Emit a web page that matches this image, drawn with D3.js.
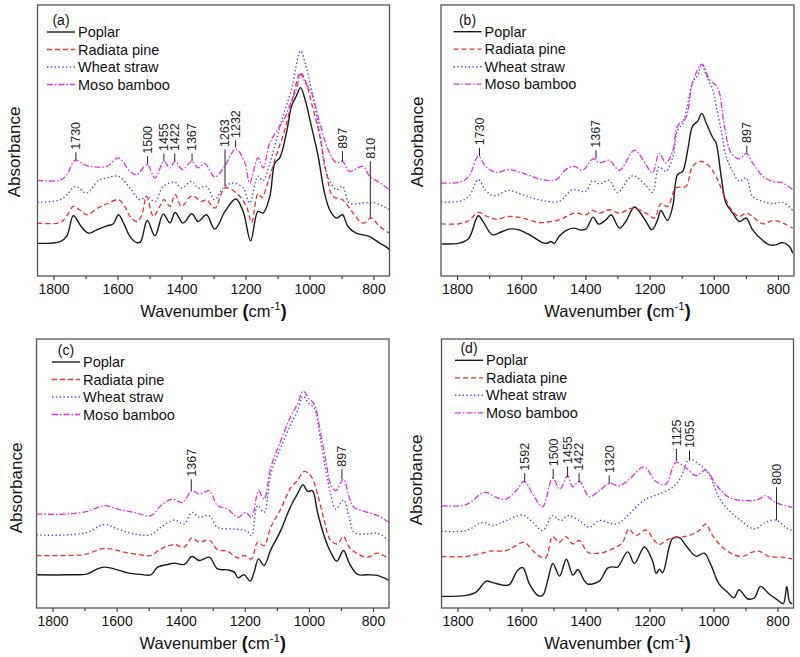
<!DOCTYPE html>
<html><head><meta charset="utf-8">
<script src="https://cdn.jsdelivr.net/npm/d3@7"></script>
<style>
body{margin:0;background:#fff}
svg{display:block}
text{font-family:"Liberation Sans",Arial,sans-serif;fill:#111}
</style>
</head><body>
<svg id="c" width="800" height="657"></svg>
<script>
// ---------- data ----------
const seriesNames = ["Poplar","Radiata pine","Wheat straw","Moso bamboo"];
const panelLabels = ["(a)","(b)","(c)","(d)"];
const xTicks = [1800,1600,1400,1200,1000,800];
const xMinorTicks = [1700,1500,1300,1100,900];
const xDomain = [1850,750];
const yDomain = [0,270];

// panel (a)  [wavenumber, absorbance (a.u.)]
const popA = [[1850,32.5],[1779,34.3],[1758,40],[1738,60],[1715,50],[1696,43.5],[1686,42.7],[1665,46],[1633,50],[1613,52],[1597,61],[1580,52],[1561,39.3],[1540,33.3],[1528,34],[1507,55.3],[1483,40],[1457,61.7],[1436,53],[1420,63.3],[1395,52.7],[1368,62],[1348,54.3],[1322,61],[1296,46.7],[1264,64.3],[1230,76.7],[1207,64],[1184,35],[1161,64.3],[1145,62.7],[1124,79.3],[1108,112.7],[1093,117.7],[1072,142.7],[1056,169.3],[1041,179.3],[1028,187.7],[1014,176],[999,156],[973,119.3],[953,82.7],[937,66],[916,57.7],[897,61],[880,49.3],[854,42.7],[812,39.3],[781,32.7],[760,29],[750,26]];
const redA = [[1850,52.7],[1779,53.3],[1758,60],[1738,69.3],[1715,65],[1696,61],[1660,68],[1633,72],[1597,76],[1575,68],[1561,59.3],[1540,54.3],[1525,60],[1509,79.3],[1488,59.3],[1470,68],[1455,76],[1436,69.3],[1420,81],[1400,69.3],[1368,80],[1337,74.3],[1322,76],[1296,67.7],[1264,87.7],[1228,82.7],[1197,69.3],[1181,53.3],[1161,82],[1148,78],[1134,89.3],[1108,116],[1077,146],[1051,179.3],[1028,202.7],[1010,192],[994,172.7],[968,139.3],[947,102.7],[927,79.3],[897,76],[864,62.7],[833,52.7],[807,57.7],[781,49.3],[750,42.7]];
const blueA = [[1850,73.3],[1779,76],[1758,81],[1732,89.3],[1696,82.7],[1660,95],[1633,97.7],[1597,99.3],[1561,87.7],[1530,76],[1509,79.3],[1483,74.3],[1457,89.3],[1420,93.3],[1400,87.7],[1368,94.3],[1348,87.7],[1322,89.3],[1296,76],[1270,87.7],[1239,92.7],[1207,87.7],[1187,72.7],[1161,99.3],[1145,95],[1126,110],[1103,136],[1083,159.3],[1056,186],[1028,224.3],[1012,210],[994,186],[968,142.7],[947,102.7],[916,86],[897,89.3],[875,72.7],[833,72.7],[797,73],[750,66]];
const magA = [[1850,95.3],[1779,95.5],[1758,101],[1732,115.3],[1696,110],[1633,109.3],[1597,117.7],[1561,104.3],[1540,101],[1507,111],[1483,97.7],[1455,114.3],[1436,107.7],[1420,114.3],[1397,106],[1368,114.3],[1348,107.7],[1327,112],[1296,98.7],[1264,110],[1230,126.7],[1202,112.7],[1187,92.7],[1161,117.7],[1145,107.7],[1124,132.7],[1093,149.3],[1077,157.7],[1056,175],[1041,186],[1028,201],[1012,192],[994,182.7],[968,152.7],[942,126],[916,112.7],[897,114.3],[875,104.3],[833,109.3],[812,99.3],[781,93],[750,86]];

// panel (b)
const popB = [[1850,32],[1794,32.7],[1763,37.7],[1734,60],[1716,52.7],[1690,41],[1659,44.3],[1638,46.7],[1607,46],[1565,39.3],[1534,33.3],[1518,32.7],[1508,34.3],[1497,32.7],[1482,39.3],[1461,45.3],[1435,47.7],[1419,46],[1399,46.7],[1376,58.7],[1359,51.7],[1336,56],[1320,61],[1294,47.7],[1274,54.3],[1248,68.7],[1232,64.3],[1211,54.3],[1193,46],[1175,56],[1165,65.3],[1144,55.3],[1128,69.3],[1113,101],[1097,104.3],[1081,126],[1066,149.3],[1050,154.3],[1037,162],[1024,152.7],[1003,137.7],[993,132.7],[977,99.3],[962,72.7],[941,62.7],[920,54.3],[899,57.7],[879,46],[847,35.3],[827,31],[806,31],[785,33.3],[764,29.3],[754,22.7]];
const redB = [[1850,52],[1794,52],[1763,55.3],[1734,63.3],[1711,60],[1679,56.7],[1638,59.3],[1596,57.7],[1544,53.3],[1482,56],[1435,62.7],[1399,61],[1378,65.3],[1356,62.7],[1326,66],[1294,62.7],[1253,67.7],[1211,62.7],[1185,57.7],[1165,72],[1144,69.3],[1118,87.7],[1087,89.3],[1066,109.3],[1040,114.3],[1014,109.3],[988,96],[967,79.3],[941,64.3],[920,59.3],[899,62.7],[879,59.3],[847,52],[816,55.3],[785,52.7],[754,47.7]];
const blueB = [[1850,73.7],[1794,74.3],[1763,79.3],[1734,96],[1711,85.3],[1685,80],[1638,85.3],[1596,81],[1544,76],[1482,74.3],[1440,86],[1399,84.3],[1378,95],[1356,91.7],[1326,95.3],[1300,83.3],[1253,100],[1211,90],[1191,83.3],[1170,108.7],[1149,104.3],[1128,118],[1113,145],[1097,152],[1081,172],[1066,192.7],[1050,200],[1037,211],[1024,200],[1003,185],[993,170],[977,145],[962,120],[941,104],[920,94.3],[899,97.7],[879,79.3],[847,74.3],[816,72],[785,73.3],[754,65.3]];
const magB = [[1850,92.7],[1794,93.3],[1763,99.3],[1734,119.3],[1711,109.3],[1679,103.3],[1638,106],[1596,102.7],[1534,96],[1492,96],[1461,106],[1435,109.3],[1409,105.3],[1376,116.7],[1356,112.7],[1326,115.3],[1294,105.3],[1248,125.3],[1222,116.7],[1191,102.7],[1170,122],[1149,112.7],[1128,124.3],[1113,149.3],[1087,157.7],[1066,192.7],[1037,211],[1014,196],[988,187.7],[967,149.3],[946,122.7],[920,116.7],[899,122],[879,112.7],[847,99.3],[816,94.3],[785,92.7],[754,86]];

// panel (c)
const popC = [[1850,33.3],[1753,33.3],[1691,34.3],[1660,39.3],[1639,41],[1608,39.3],[1566,35.3],[1524,33.7],[1493,33.3],[1472,41],[1441,43.7],[1420,45],[1389,43.7],[1365,51.7],[1342,47.7],[1311,51],[1285,39.3],[1254,38.3],[1233,36],[1221,30.3],[1202,33.3],[1183,27],[1171,36],[1157,49.3],[1140,42.7],[1119,58.3],[1088,77.7],[1056,102.7],[1036,114.3],[1018,123.7],[1004,117],[989,117.7],[973,96],[952,72],[932,56],[913,47],[892,57.7],[874,45],[848,33.7],[817,33.3],[786,32.7],[750,27.7]];
const redC = [[1850,52.7],[1753,52.7],[1691,54.3],[1649,59.3],[1618,59.3],[1576,56],[1524,53.3],[1493,52.7],[1462,59.3],[1420,63.7],[1389,61],[1365,70.3],[1342,66],[1311,68.3],[1285,58.3],[1254,57],[1223,50.3],[1202,52.7],[1179,49.3],[1160,66],[1140,62.7],[1119,81],[1088,99.3],[1056,121],[1036,127.7],[1015,137],[994,132.7],[973,114.3],[952,87.7],[932,67.7],[911,64.3],[892,71.7],[874,61],[848,54.3],[817,51],[786,55],[750,49.3]];
const blueC = [[1850,73.3],[1753,73.3],[1691,76],[1639,83.7],[1597,79.3],[1545,74.3],[1493,73.7],[1462,81],[1420,88.3],[1389,84.3],[1365,96],[1342,91],[1311,92.7],[1285,81],[1233,79.3],[1192,77],[1179,72.7],[1160,102.7],[1140,96],[1119,134.3],[1088,161],[1056,184.3],[1036,197.7],[1018,212.7],[1000,205],[984,201],[963,167.7],[947,137.7],[932,114.3],[916,99.3],[892,108.3],[874,91],[859,76],[817,74.3],[786,75],[750,67.7]];
const magC = [[1850,94.3],[1753,94.3],[1691,97],[1639,102.7],[1597,99.3],[1545,96],[1493,92.7],[1462,102.7],[1426,109.3],[1394,106],[1365,117.7],[1342,114.3],[1311,117.7],[1285,102.7],[1254,99.3],[1221,91],[1197,96],[1179,91],[1157,117.7],[1140,109.3],[1119,141],[1088,167.7],[1056,192.7],[1036,204.3],[1018,217.7],[1000,210],[984,205],[963,174.3],[947,147.7],[932,124.3],[916,117.7],[892,129.3],[874,111],[859,101],[817,96],[786,92.7],[750,86]];

// panel (d)
const popD = [[1850,11.7],[1773,12.7],[1742,16],[1710,27],[1690,25.5],[1659,23],[1638,23.5],[1612,38],[1596,40.5],[1575,24],[1549,12.7],[1534,12.5],[1518,27.7],[1502,44.7],[1481,32],[1460,49],[1439,33],[1424,38.7],[1404,27.7],[1393,24],[1357,27],[1331,40],[1315,41.3],[1300,41],[1268,56.3],[1247,44.7],[1216,61.3],[1191,47.7],[1179,34.7],[1169,39],[1159,35.3],[1128,69.7],[1107,70.7],[1086,62.7],[1055,52],[1029,55],[1009,44],[983,24.3],[957,16],[936,10.3],[920,18.3],[894,9.3],[873,10],[853,21.7],[827,14.3],[801,8.3],[782,4.3],[771,21.7],[762,6],[754,4.3]];
const redD = [[1850,51.7],[1773,51.7],[1731,54.3],[1700,57],[1648,57.7],[1617,62.7],[1591,66],[1565,57.7],[1539,51],[1523,51],[1503,71.7],[1482,66],[1461,71.7],[1440,64.3],[1419,67.7],[1393,56],[1357,55],[1315,59.3],[1284,66],[1265,79.3],[1243,72.7],[1211,78.3],[1185,67.7],[1170,63.7],[1139,69.3],[1107,71],[1076,72.7],[1045,77.7],[1024,84.3],[1003,72.7],[972,61],[941,54.3],[910,51.7],[879,56],[858,57],[827,51.7],[785,51],[754,49.3]];
const blueD = [[1850,77],[1773,77.7],[1721,86],[1690,82.7],[1648,87.7],[1596,93.3],[1565,86],[1534,77.7],[1503,92.7],[1477,87.7],[1456,92.7],[1419,87.7],[1388,81],[1357,87.7],[1305,84.3],[1274,91],[1243,101],[1211,109.3],[1170,114.3],[1128,121],[1102,131],[1076,149.3],[1045,144.3],[1014,134.3],[983,111],[951,97.7],[920,89.3],[873,79.3],[837,86],[806,88.3],[774,81],[754,77.7]];
const magD = [[1850,102.7],[1773,103.7],[1716,116],[1679,111],[1648,109.3],[1617,117.7],[1591,127],[1565,114.3],[1534,101.7],[1503,130.3],[1480,119.3],[1456,132.7],[1440,121.7],[1419,127],[1388,111.7],[1357,117.7],[1326,125],[1294,122.7],[1263,129.3],[1217,141.7],[1180,127],[1149,124.3],[1118,146],[1087,141],[1055,132.7],[1024,138.3],[993,124.3],[951,111],[899,107.7],[858,109.3],[837,112.7],[806,106],[754,101]];

// peak annotations: position, label, curve value, top of leader
const annXA = [1730,1506,1455,1421,1367,1264,1231,897,810];
const annLA = ["1730","1500","1455","1422","1367","1263","1232","897","810"];
const annLoA = [115.3,111,114.3,114.3,114.3,89.3,128,114.3,57.7];
const annHiA = [123.3,119.3,122,122,122,126,135,124.3,114.3];
const annXB = [1730,1367,897];
const annLB = ["1730","1367","897"];
const annLoB = [119.3,116.7,122];
const annHiB = [127.7,125.3,130];
const annXC = [1367,897];
const annLC = ["1367","897"];
const annLoC = [117.7,129.3];
const annHiC = [129.3,139.3];
const annXD = [1590,1501,1456,1420,1326,1116,1075,803];
const annLD = ["1592","1500","1455","1422","1320","1125","1055","800"];
const annLoD = [126.3,129.7,131.3,126.3,124.7,147.3,148,88];
const annHiD = [135.3,139.7,142,135.3,133,159.7,158,121.3];

// ---------- layout / style ----------
const styles = [
  {color:"#1a1a1a", w:1.4, dash:null},
  {color:"#e8302c", w:1.3, dash:"5,3"},
  {color:"#4a4ae8", w:1.4, dash:"1.4,2.4"},
  {color:"#e02ee0", w:1.3, dash:"6,2,1.5,2"}
];
const panels = [
  {x0:37.5, x1:389.5, y0:5,   y1:276, lx:9.5,  ly:27,  yl:[14,152],  s:[popA,redA,blueA,magA], a:[annXA,annLA,annLoA,annHiA]},
  {x0:441,  x1:794,   y0:5,   y1:276, lx:12.5, ly:26.7,yl:[417,142], s:[popB,redB,blueB,magB], a:[annXB,annLB,annLoB,annHiB]},
  {x0:36.5, x1:389,   y0:339, y1:608, lx:15.5, ly:23,  yl:[16,488],  s:[popC,redC,blueC,magC], a:[annXC,annLC,annLoC,annHiC]},
  {x0:441.5,x1:793.5, y0:339, y1:608, lx:13.5, ly:21.3,yl:[416,480], s:[popD,redD,blueD,magD], a:[annXD,annLD,annLoD,annHiD]}
];

const svg = d3.select("#c");
const defs = svg.append("defs");

panels.forEach((p,pi)=>{
  const x = d3.scaleLinear().domain(xDomain).range([p.x0,p.x1]);
  const y = d3.scaleLinear().domain(yDomain).range([p.y1,p.y0]);
  const g = svg.append("g");
  const cid = "clip"+pi;
  defs.append("clipPath").attr("id",cid).append("rect")
    .attr("x",p.x0).attr("y",p.y0).attr("width",p.x1-p.x0).attr("height",p.y1-p.y0);

  const line = d3.line().x(d=>x(d[0])).y(d=>y(d[1])).curve(d3.curveCatmullRom.alpha(0.5));
  p.s.forEach((s,i)=>{
    const st = styles[i];
    g.append("path").attr("d",line(s)).attr("clip-path",`url(#${cid})`)
      .attr("fill","none").attr("stroke",st.color).attr("stroke-width",st.w)
      .attr("stroke-dasharray",st.dash).attr("stroke-linejoin","round");
  });

  // annotations
  const [ax,al,alo,ahi] = p.a;
  ax.forEach((v,i)=>{
    const px = x(v);
    g.append("line").attr("x1",px).attr("x2",px).attr("y1",y(alo[i])).attr("y2",y(ahi[i]))
      .attr("stroke","#222").attr("stroke-width",1);
    g.append("text").attr("transform",`translate(${px},${y(ahi[i])-2.5}) rotate(-90)`)
      .attr("dy","0.35em").attr("font-size",12.5).style("fill","#222").text(al[i]);
  });

  // frame
  g.append("rect").attr("x",p.x0).attr("y",p.y0).attr("width",p.x1-p.x0).attr("height",p.y1-p.y0)
    .attr("fill","none").attr("stroke","#555").attr("stroke-width",1.3);

  // x axis
  const axis = d3.axisBottom(x).tickValues(xTicks).tickSize(4).tickSizeOuter(0).tickPadding(4).tickFormat(d3.format("d"));
  const ag = g.append("g").attr("transform",`translate(0,${p.y1})`).call(axis);
  ag.select(".domain").remove();
  ag.selectAll(".tick line").attr("stroke","#333").attr("stroke-width",1.1);
  ag.selectAll(".tick text").attr("font-size",14).attr("font-family","Liberation Sans, Arial, sans-serif").style("fill","#111");
  const minor = d3.axisBottom(x).tickValues(xMinorTicks).tickSize(3).tickSizeOuter(0).tickFormat("");
  const mg = g.append("g").attr("transform",`translate(0,${p.y1})`).call(minor);
  mg.select(".domain").remove();
  mg.selectAll(".tick line").attr("stroke","#333").attr("stroke-width",1.1);

  // x title
  const tx = g.append("text").attr("x",(p.x0+p.x1)/2).attr("y",p.y1+41).attr("text-anchor","middle").attr("font-size",16.5);
  tx.append("tspan").text("Wavenumber ");
  tx.append("tspan").attr("font-weight","bold").attr("font-size",18).text("(");
  tx.append("tspan").text("cm");
  tx.append("tspan").attr("font-size",11.5).attr("dy",-7).text("-1");
  tx.append("tspan").attr("font-weight","bold").attr("font-size",18).attr("dy",7).text(")");

  // y title
  g.append("text").attr("transform",`translate(${p.yl[0]},${p.yl[1]}) rotate(-90)`)
    .attr("text-anchor","middle").attr("dy","0.35em").attr("font-size",17).text("Absorbance");

  // legend
  const lx = p.x0+p.lx, ly = p.y0+p.ly;
  g.append("text").attr("x",lx+14).attr("y",ly-7).attr("text-anchor","middle").attr("font-size",14).text(panelLabels[pi]);
  seriesNames.forEach((n,i)=>{
    const yy = ly + i*17.5;
    const st = styles[i];
    g.append("line").attr("x1",lx).attr("x2",lx+28).attr("y1",yy).attr("y2",yy)
      .attr("stroke",st.color).attr("stroke-width",st.w).attr("stroke-dasharray",st.dash);
    g.append("text").attr("x",lx+31).attr("y",yy).attr("dy","0.35em").attr("font-size",14.5).text(n);
  });
});
</script>
</body></html>
